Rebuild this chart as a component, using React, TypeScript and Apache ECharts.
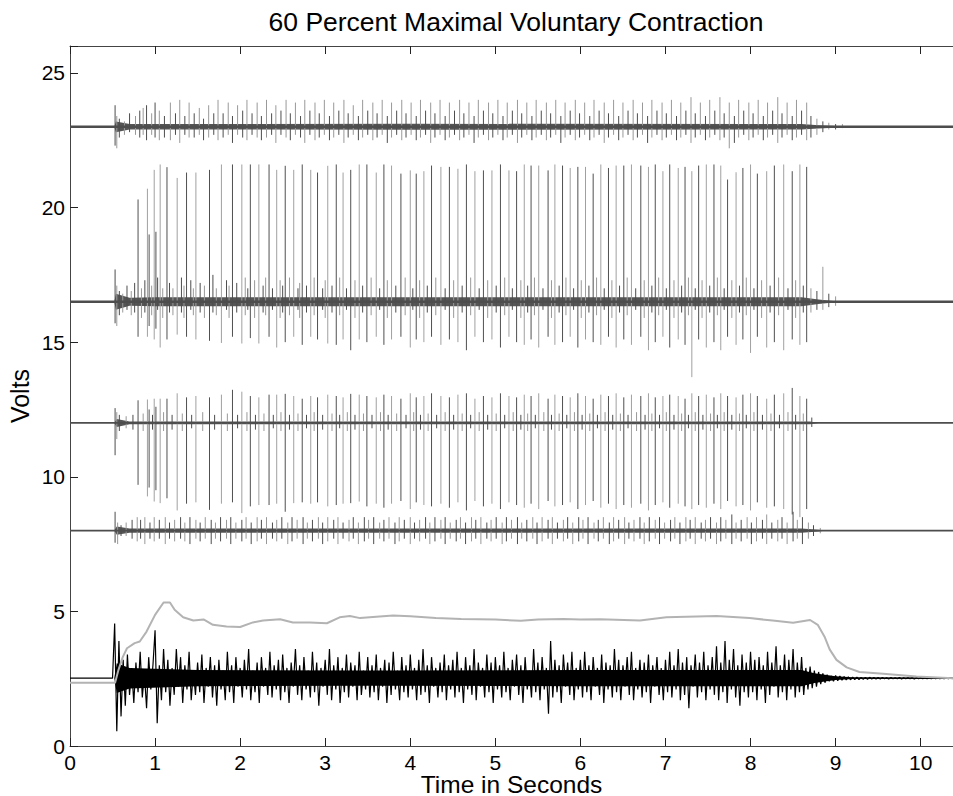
import React, { useEffect, useRef } from "react";
import * as echarts from "echarts";

const TITLE = "60 Percent Maximal Voluntary Contraction";
const X_NAME = "Time in Seconds";
const Y_NAME = "Volts";
const X_MAX = 10.38;
const Y_MAX = 26;

// Channel baselines (V)
const A_BASE = 23;
const B_BASE = 16.5;
const C_BASE = 12;
const D_BASE = 8;

// Large motor-unit spikes seen on channels B and C: [t, bTop, bBottom, cTop, cBottom]
const majorSpikes = [
  [0.80, 20.3, 15.2, 12.84, 9.7], [0.91, 20.7, 15.2, 12.87, 9.27], [0.93, 19.0, 15.6, 12.5, 9.6],
  [0.99, 21.4, 15.1, 12.9, 9.08], [1.01, 19.1, 15.5, 12.6, 9.5], [1.06, 21.6, 14.8, 12.9, 9.02],
  [1.14, 21.5, 15.1, 12.9, 9.2], [1.26, 21.1, 15.28, 13.1, 8.75], [1.37, 21.3, 15.2, 12.95, 9.0],
  [1.48, 21.3, 15.1, 13.0, 9.05], [1.64, 21.4, 15.05, 12.95, 8.77], [1.78, 21.6, 14.97, 13.05, 9.0],
  [1.91, 21.6, 15.2, 13.23, 9.05], [2.02, 21.6, 14.95, 13.16, 8.65], [2.12, 21.6, 15.15, 13.0, 8.9],
  [2.22, 21.6, 14.95, 12.95, 8.95], [2.34, 21.6, 15.2, 13.05, 8.95], [2.43, 21.4, 14.8, 13.05, 9.0],
  [2.53, 21.55, 15.0, 13.08, 8.7], [2.63, 21.4, 15.2, 13.0, 9.02], [2.73, 21.6, 14.9, 12.9, 9.05],
  [2.83, 21.4, 15.2, 13.0, 9.0], [2.91, 21.3, 15.1, 12.95, 9.05], [3.03, 21.55, 14.95, 13.05, 8.9],
  [3.13, 21.6, 14.9, 13.0, 8.95], [3.21, 21.3, 15.1, 12.95, 9.0], [3.30, 21.4, 14.7, 13.08, 9.02],
  [3.40, 21.6, 15.1, 13.05, 9.08], [3.49, 21.6, 15.0, 13.0, 8.9], [3.60, 21.3, 15.2, 12.95, 9.0],
  [3.69, 21.6, 14.9, 13.05, 8.85], [3.78, 21.56, 15.1, 13.0, 9.0], [3.89, 21.26, 15.2, 12.9, 9.1],
  [4.00, 21.38, 14.8, 13.1, 8.8], [4.07, 21.26, 15.1, 12.95, 9.05], [4.16, 21.35, 15.0, 13.0, 8.95],
  [4.25, 21.56, 15.2, 13.1, 8.9], [4.36, 21.51, 14.9, 13.0, 9.0], [4.46, 21.51, 15.1, 12.95, 8.85],
  [4.56, 21.44, 15.0, 13.05, 9.05], [4.66, 21.6, 14.7, 13.1, 8.75], [4.76, 21.35, 15.2, 12.9, 9.1],
  [4.86, 21.38, 15.0, 13.0, 8.9], [4.96, 21.38, 15.1, 12.95, 9.0], [5.06, 21.6, 14.8, 13.1, 8.8],
  [5.16, 21.38, 15.2, 13.0, 9.05], [5.25, 21.35, 15.0, 12.95, 8.95], [5.34, 21.6, 14.9, 13.05, 8.85],
  [5.42, 21.56, 15.1, 13.0, 9.0], [5.51, 21.56, 14.8, 13.1, 8.8], [5.62, 21.38, 15.2, 12.9, 9.1],
  [5.70, 21.6, 14.9, 13.05, 8.9], [5.79, 21.56, 15.0, 13.0, 8.95], [5.88, 21.47, 15.2, 12.95, 9.05],
  [5.97, 21.51, 14.8, 13.1, 8.8], [6.06, 21.51, 15.1, 13.0, 8.95], [6.15, 21.26, 15.0, 12.9, 9.1],
  [6.24, 21.6, 14.9, 13.05, 8.85], [6.33, 21.47, 15.2, 13.0, 9.0], [6.42, 21.56, 14.8, 13.1, 8.8],
  [6.51, 21.56, 15.1, 12.95, 8.95], [6.60, 21.6, 14.9, 13.05, 8.85], [6.71, 21.56, 15.2, 13.0, 9.0],
  [6.80, 21.51, 14.7, 13.1, 8.75], [6.88, 21.6, 15.0, 12.95, 8.95], [6.97, 21.35, 15.2, 13.0, 9.05],
  [7.05, 21.6, 14.8, 13.05, 8.85], [7.15, 21.47, 15.1, 13.0, 9.0], [7.23, 21.51, 14.9, 12.9, 8.9],
  [7.31, 21.35, 13.7, 13.1, 8.8], [7.39, 21.56, 15.1, 13.0, 8.95], [7.48, 21.6, 14.8, 13.05, 8.85],
  [7.57, 21.6, 15.0, 12.95, 9.0], [7.65, 21.56, 14.7, 13.1, 8.8], [7.73, 21.04, 15.2, 13.0, 9.1],
  [7.83, 21.31, 14.9, 12.95, 8.9], [7.91, 21.47, 15.1, 13.05, 8.95], [8.00, 21.6, 14.6, 13.1, 8.75],
  [8.08, 21.26, 15.2, 13.0, 9.05], [8.19, 21.35, 14.8, 12.9, 8.85], [8.28, 21.56, 15.0, 13.05, 8.9],
  [8.39, 21.6, 14.7, 13.1, 8.8], [8.49, 21.35, 15.1, 13.3, 8.6], [8.58, 21.6, 14.9, 13.0, 8.5],
  [8.66, 21.51, 15.0, 12.9, 8.8],
];

// Smaller spikes per channel: [t, up above base, down below base]
const aSpikes = [
  [0.53, .8, .7], [0.55, .4, .8], [0.58, .3, .4], [0.64, .2, .3], [0.70, .5, .2], [0.77, .4, .3],
  [0.82, .6, .4], [0.86, .7, .3], [0.90, .8, .5], [0.96, .5, .3], [1.00, .9, .4], [1.05, .6, .5],
  [1.11, .4, .4], [1.18, .9, .5], [1.24, .5, .3], [1.29, 1.0, .6], [1.35, .4, .3], [1.40, .9, .4],
  [1.46, .5, .4], [1.52, .7, .3], [1.57, .3, .5], [1.63, .8, .4], [1.69, .5, .3], [1.74, 1.0, .5],
  [1.80, .5, .4], [1.86, .9, .3], [1.91, .4, .6], [1.97, .8, .3], [2.03, .6, .4], [2.08, 1.0, .5],
  [2.14, .5, .3], [2.20, .9, .4], [2.25, .4, .5], [2.31, 1.0, .4], [2.37, .5, .3], [2.42, .8, .6],
  [2.48, .6, .3], [2.54, 1.0, .4], [2.59, .5, .5], [2.65, .9, .3], [2.71, .4, .4], [2.76, 1.0, .6],
  [2.82, .6, .3], [2.88, .9, .5], [2.93, .5, .4], [2.99, 1.0, .3], [3.05, .4, .5], [3.10, .9, .4],
  [3.16, .6, .3], [3.22, 1.0, .6], [3.27, .5, .4], [3.33, .8, .3], [3.39, .4, .5], [3.44, 1.0, .4],
  [3.50, .6, .3], [3.56, .9, .5], [3.61, .5, .4], [3.67, 1.0, .3], [3.73, .4, .6], [3.78, .9, .4],
  [3.84, .6, .3], [3.90, 1.0, .5], [3.95, .5, .4], [4.01, .9, .3], [4.07, .4, .5], [4.12, 1.0, .4],
  [4.18, .6, .3], [4.24, .9, .6], [4.29, .5, .4], [4.35, 1.0, .3], [4.41, .4, .5], [4.46, .9, .4],
  [4.52, .6, .3], [4.58, 1.0, .5], [4.63, .5, .4], [4.69, .9, .3], [4.75, .4, .6], [4.80, 1.0, .4],
  [4.86, .6, .3], [4.92, .9, .5], [4.97, .5, .4], [5.03, 1.0, .3], [5.09, .4, .5], [5.14, .9, .4],
  [5.20, .6, .3], [5.26, 1.0, .6], [5.31, .5, .4], [5.37, .9, .3], [5.43, .4, .5], [5.48, 1.0, .4],
  [5.54, .6, .3], [5.60, .9, .5], [5.65, .5, .4], [5.71, 1.0, .3], [5.77, .4, .6], [5.82, .9, .4],
  [5.88, .6, .3], [5.94, 1.0, .5], [5.99, .5, .4], [6.05, .9, .3], [6.11, .4, .5], [6.16, 1.0, .4],
  [6.22, .6, .3], [6.28, .9, .6], [6.33, .5, .4], [6.39, 1.0, .3], [6.45, .4, .5], [6.50, .9, .4],
  [6.56, .6, .3], [6.62, 1.0, .5], [6.67, .5, .4], [6.73, .9, .3], [6.79, .4, .6], [6.84, 1.0, .4],
  [6.90, .6, .3], [6.96, .9, .5], [7.01, .5, .4], [7.07, 1.0, .3], [7.13, .4, .5], [7.18, .9, .4],
  [7.24, .6, .3], [7.30, 1.1, .6], [7.35, .5, .4], [7.41, .9, .3], [7.47, .4, .5], [7.52, 1.0, .4],
  [7.58, .6, .3], [7.64, 1.1, .5], [7.69, .5, .4], [7.75, .9, .8], [7.81, .4, .6], [7.86, 1.0, .4],
  [7.92, .6, .3], [7.98, .9, .5], [8.03, .5, .4], [8.09, 1.0, .3], [8.15, .4, .5], [8.20, .9, .4],
  [8.26, .6, .3], [8.32, 1.1, .6], [8.37, .5, .4], [8.43, .9, .3], [8.49, .4, .5], [8.54, 1.0, .4],
  [8.60, .6, .3], [8.66, .9, .5], [8.71, .4, .4], [8.78, .3, .3], [8.85, .2, .2], [8.92, .15, .1],
  [9.00, .1, .1], [9.08, .1, .05],
];

const bSpikes = [
  [0.53, 1.2, .8], [0.55, .6, .9], [0.58, .4, .5], [0.62, .3, .4], [0.67, .6, .3], [0.72, .4, .5],
  [0.76, .7, .4], [0.84, .5, .6], [0.88, .8, .4], [0.96, .6, .5], [1.03, .9, .3], [1.09, .5, .6],
  [1.17, .7, .4], [1.21, .5, .5], [1.31, .9, .4], [1.34, .6, .6], [1.42, .8, .3], [1.45, .5, .5],
  [1.53, .7, .4], [1.58, .6, .6], [1.68, 1.0, .4], [1.72, .5, .5], [1.84, .8, .3], [1.87, .6, .6],
  [1.96, .7, .4], [2.06, .9, .5], [2.09, .5, .3], [2.17, .8, .6], [2.27, .6, .4], [2.30, .9, .5],
  [2.38, .5, .3], [2.47, .8, .6], [2.50, .6, .4], [2.58, .9, .5], [2.68, .5, .3], [2.70, .7, .6],
  [2.78, .6, .4], [2.87, .9, .5], [2.97, .5, .3], [3.00, .8, .6], [3.08, .6, .4], [3.17, .9, .5],
  [3.25, .5, .3], [3.35, .8, .6], [3.44, .6, .4], [3.54, .9, .5], [3.64, .5, .3], [3.73, .8, .6],
  [3.83, .6, .4], [3.94, .9, .5], [4.03, .5, .3], [4.11, .8, .6], [4.20, .6, .4], [4.30, .9, .5],
  [4.41, .5, .3], [4.51, .8, .6], [4.61, .6, .4], [4.71, .9, .5], [4.81, .5, .3], [4.91, .8, .6],
  [5.01, .6, .4], [5.11, .9, .5], [5.20, .5, .3], [5.30, .8, .6], [5.38, .6, .4], [5.46, .9, .5],
  [5.56, .5, .3], [5.66, .8, .6], [5.75, .6, .4], [5.83, .9, .5], [5.92, .5, .3], [6.01, .8, .6],
  [6.10, .6, .4], [6.19, .9, .5], [6.28, .5, .3], [6.37, .8, .6], [6.46, .6, .4], [6.55, .9, .5],
  [6.65, .5, .3], [6.75, .8, .6], [6.84, .6, .4], [6.92, .9, .5], [7.01, .5, .3], [7.10, .8, .6],
  [7.19, .6, .4], [7.27, .9, .5], [7.35, .5, .3], [7.43, .8, .6], [7.52, .6, .4], [7.61, .9, .5],
  [7.69, .5, .3], [7.78, .8, .6], [7.87, .6, .4], [7.95, .9, .5], [8.04, .5, .3], [8.13, .8, .6],
  [8.23, .6, .4], [8.33, .9, .5], [8.44, .5, .3], [8.53, .8, .6], [8.62, .6, .4], [8.71, .5, .4],
  [8.78, .4, .3], [8.85, 1.3, .3], [8.92, .3, .2], [9.00, .2, .15],
];

const cSpikes = [
  [0.53, .55, 1.2], [0.55, .4, .6], [0.58, .3, .3], [0.66, .25, .2], [0.74, .3, .25], [0.86, .35, .3],
  [0.97, .3, .25], [1.10, .4, .3], [1.20, .3, .25], [1.32, .35, .3], [1.43, .3, .2], [1.56, .4, .3],
  [1.70, .3, .25], [1.85, .35, .3], [1.97, .3, .2], [2.08, .4, .3], [2.18, .3, .25], [2.28, .35, .3],
  [2.39, .3, .2], [2.48, .4, .3], [2.58, .3, .25], [2.68, .35, .3], [2.78, .3, .2], [2.87, .4, .3],
  [2.97, .3, .25], [3.08, .35, .3], [3.17, .3, .2], [3.26, .4, .3], [3.35, .3, .25], [3.45, .35, .3],
  [3.55, .3, .2], [3.65, .4, .3], [3.74, .3, .25], [3.84, .35, .3], [3.95, .3, .2], [4.04, .4, .3],
  [4.12, .3, .25], [4.21, .35, .3], [4.31, .3, .2], [4.41, .4, .3], [4.51, .3, .25], [4.61, .35, .3],
  [4.71, .3, .2], [4.81, .4, .3], [4.91, .3, .25], [5.01, .35, .3], [5.11, .3, .2], [5.21, .4, .3],
  [5.30, .3, .25], [5.38, .35, .3], [5.47, .3, .2], [5.57, .4, .3], [5.66, .3, .25], [5.75, .35, .3],
  [5.84, .3, .2], [5.93, .4, .3], [6.02, .3, .25], [6.11, .35, .3], [6.20, .3, .2], [6.29, .4, .3],
  [6.38, .3, .25], [6.47, .35, .3], [6.56, .3, .2], [6.66, .4, .3], [6.76, .3, .25], [6.84, .35, .3],
  [6.93, .3, .2], [7.01, .4, .3], [7.10, .3, .25], [7.19, .35, .3], [7.27, .3, .2], [7.35, .4, .3],
  [7.44, .3, .25], [7.53, .35, .3], [7.61, .3, .2], [7.69, .4, .3], [7.78, .3, .25], [7.87, .35, .3],
  [7.95, .3, .2], [8.04, .4, .3], [8.14, .3, .25], [8.24, .35, .3], [8.34, .3, .2], [8.44, .4, .3],
  [8.53, .3, .25], [8.62, .35, .3], [8.72, .2, .15],
];

const dSpikes = [
  [0.53, .7, .45], [0.56, .3, .5], [0.60, .2, .2], [0.66, .3, .2], [0.73, .4, .3], [0.79, .5, .4],
  [0.83, .4, .3], [0.88, .5, .5], [0.94, .3, .3], [0.99, .5, .4], [1.05, .4, .3], [1.12, .5, .5],
  [1.17, .3, .3], [1.23, .4, .4], [1.30, .5, .3], [1.35, .3, .4], [1.41, .5, .5], [1.48, .4, .3],
  [1.53, .3, .4], [1.59, .5, .3], [1.66, .4, .5], [1.71, .3, .3], [1.77, .5, .4], [1.84, .4, .3],
  [1.89, .5, .5], [1.95, .3, .3], [2.02, .4, .4], [2.07, .5, .3], [2.13, .3, .5], [2.20, .5, .4],
  [2.25, .4, .3], [2.31, .5, .5], [2.38, .3, .3], [2.43, .4, .4], [2.49, .5, .3], [2.56, .3, .5],
  [2.61, .5, .4], [2.67, .4, .3], [2.74, .5, .5], [2.79, .3, .3], [2.85, .4, .4], [2.92, .5, .3],
  [2.97, .3, .5], [3.03, .5, .4], [3.10, .4, .3], [3.15, .5, .5], [3.21, .3, .3], [3.28, .4, .4],
  [3.33, .5, .3], [3.39, .3, .5], [3.46, .5, .4], [3.51, .4, .3], [3.57, .5, .5], [3.64, .3, .3],
  [3.69, .4, .4], [3.75, .5, .3], [3.82, .3, .5], [3.87, .5, .4], [3.93, .4, .3], [4.00, .5, .5],
  [4.05, .3, .3], [4.11, .4, .4], [4.18, .5, .3], [4.23, .3, .5], [4.29, .5, .4], [4.36, .4, .3],
  [4.41, .5, .5], [4.47, .3, .3], [4.54, .4, .4], [4.59, .5, .3], [4.65, .3, .5], [4.72, .5, .4],
  [4.77, .4, .3], [4.83, .5, .5], [4.90, .3, .3], [4.95, .4, .4], [5.01, .5, .3], [5.08, .3, .5],
  [5.13, .5, .4], [5.19, .4, .3], [5.26, .5, .5], [5.31, .3, .3], [5.37, .4, .4], [5.44, .5, .3],
  [5.49, .3, .5], [5.55, .5, .4], [5.62, .4, .3], [5.67, .5, .5], [5.73, .3, .3], [5.80, .4, .4],
  [5.85, .5, .3], [5.91, .3, .5], [5.98, .5, .4], [6.03, .4, .3], [6.09, .5, .5], [6.16, .3, .3],
  [6.21, .4, .4], [6.27, .5, .3], [6.34, .3, .5], [6.39, .5, .4], [6.45, .4, .3], [6.52, .5, .5],
  [6.57, .3, .3], [6.63, .4, .4], [6.70, .5, .3], [6.75, .3, .5], [6.81, .5, .4], [6.88, .4, .3],
  [6.93, .5, .5], [6.99, .3, .3], [7.06, .4, .4], [7.11, .5, .3], [7.17, .3, .5], [7.24, .5, .4],
  [7.29, .4, .3], [7.35, .5, .5], [7.42, .3, .3], [7.47, .4, .4], [7.53, .5, .3], [7.60, .3, .5],
  [7.65, .5, .4], [7.71, .4, .3], [7.78, .6, .5], [7.83, .3, .3], [7.89, .4, .4], [7.96, .5, .3],
  [8.01, .3, .5], [8.07, .5, .4], [8.14, .4, .3], [8.19, .6, .5], [8.25, .3, .3], [8.32, .4, .4],
  [8.37, .5, .3], [8.43, .3, .5], [8.50, .7, .4], [8.55, .4, .3], [8.61, .5, .5], [8.68, .3, .3],
  [8.74, .2, .2], [8.82, .1, .1],
];

// Half-width of the dense noise core of each channel: [t, halfWidth]
const aCore = [[0.52, 0], [0.54, 0.2], [0.7, 0.1], [1.0, 0.1], [4.0, 0.11], [8.6, 0.1], [8.8, 0.06], [9.1, 0.02], [9.2, 0]];
const bCore = [[0.52, 0], [0.54, 0.3], [0.7, 0.15], [1.0, 0.17], [5.0, 0.17], [8.6, 0.17], [8.8, 0.08], [9.0, 0.02], [9.1, 0]];
const cCore = [[0.52, 0], [0.55, 0.15], [0.7, 0.05], [8.7, 0.05], [8.8, 0]];
const dCore = [[0.52, 0], [0.55, 0.15], [0.7, 0.08], [8.6, 0.08], [8.8, 0.03], [8.9, 0]];
const emgCore = [[0.52, 0], [0.55, 0.55], [0.7, 0.38], [1.5, 0.3], [3.5, 0.28], [6.0, 0.3], [8.6, 0.3], [8.75, 0.18], [9.0, 0.07], [9.2, 0.03], [10.38, 0.02]];

// Surface EMG (black): samples every 0.025 s from 0.5 s
const EMG_START = 0.5;
const EMG_STEP = 0.025;
const EMG_REST = 2.52;
const emgValues = [
  2.52, 4.55, 0.55, 3.9, 1.1, 3.2, 1.5, 3.4, 1.9, 2.9, 1.6, 3.1, 2.0, 3.5, 1.8, 2.7, 1.4, 3.3, 2.1, 3.0,
  4.3, 0.85, 3.0, 1.7, 3.6, 2.0, 3.2, 1.5, 2.9, 1.9, 3.6, 2.2, 3.3, 1.6, 3.0, 2.1, 3.5, 1.7, 2.8, 1.9,
  3.1, 2.0, 3.4, 1.6, 2.9, 2.2, 3.3, 1.8, 3.0, 1.5, 3.2, 2.1, 2.8, 1.7, 3.5, 2.0, 3.0, 1.6, 3.3, 2.2,
  2.9, 1.8, 3.2, 2.1, 3.6, 1.7, 2.8, 2.0, 3.1, 1.6, 3.3, 2.2, 2.9, 1.9, 3.5, 1.8, 3.0, 2.1, 3.2, 1.7,
  3.4, 2.0, 2.9, 1.6, 3.1, 2.2, 3.6, 1.9, 3.0, 1.7, 3.3, 2.1, 2.8, 1.8, 3.5, 2.0, 3.1, 1.5, 2.9, 2.2,
  3.2, 1.9, 3.6, 1.7, 3.0, 2.1, 3.3, 1.6, 2.9, 2.0, 3.4, 1.8, 3.1, 2.2, 3.0, 1.7, 3.5, 1.9, 2.8, 2.1,
  3.3, 1.8, 3.0, 2.0, 3.4, 1.7, 2.9, 2.2, 3.2, 1.6, 3.1, 1.9, 3.5, 2.1, 2.8, 1.7, 3.3, 2.0, 3.0, 1.8,
  3.4, 2.1, 2.9, 1.7, 3.2, 1.9, 3.6, 2.0, 3.0, 1.6, 3.3, 2.2, 2.9, 1.8, 3.1, 2.0, 3.4, 1.7, 3.0, 2.1,
  3.2, 1.8, 3.5, 2.0, 2.9, 1.6, 3.3, 2.1, 3.0, 1.9, 3.6, 1.7, 3.1, 2.2, 2.9, 1.8, 3.4, 2.0, 3.1, 1.6,
  3.3, 2.1, 3.0, 1.8, 3.5, 2.0, 2.9, 1.7, 3.2, 2.2, 3.4, 1.9, 3.0, 1.6, 3.3, 2.1, 2.8, 1.8, 3.6, 2.0,
  3.1, 1.7, 3.3, 2.1, 2.9, 1.2, 3.9, 1.8, 3.2, 2.0, 3.0, 1.6, 3.4, 2.2, 3.1, 1.9, 3.5, 1.7, 2.9, 2.1,
  3.2, 1.8, 3.5, 2.0, 3.0, 1.7, 3.3, 2.2, 2.9, 1.9, 3.4, 1.6, 3.1, 2.1, 3.0, 1.8, 3.6, 2.0, 3.2, 1.7,
  3.0, 2.2, 3.3, 1.9, 3.5, 1.7, 2.9, 2.1, 3.2, 1.8, 3.1, 2.0, 3.4, 1.6, 3.0, 2.2, 3.3, 1.9, 2.9, 1.7,
  3.2, 2.0, 3.5, 1.8, 3.0, 2.1, 3.6, 1.7, 3.1, 1.9, 3.3, 1.4, 3.0, 2.2, 3.4, 1.8, 3.1, 2.0, 3.5, 1.7,
  3.0, 2.1, 3.3, 1.9, 3.7, 1.7, 3.1, 2.0, 3.9, 1.6, 3.2, 2.1, 3.6, 1.8, 3.0, 1.5, 3.4, 2.0, 3.1, 1.8,
  3.5, 2.0, 3.2, 1.7, 3.3, 2.1, 3.0, 1.6, 3.5, 1.9, 3.1, 2.2, 3.7, 1.8, 3.0, 2.0, 3.4, 1.7, 3.2, 2.1,
  3.6, 1.8, 3.1, 2.0, 3.3, 1.9, 2.9, 2.1, 2.95, 2.15, 2.8, 2.2, 2.75, 2.3, 2.7, 2.35, 2.65, 2.4, 2.6, 2.4,
  2.62, 2.42, 2.6, 2.44, 2.58, 2.45, 2.57, 2.46, 2.56, 2.47, 2.56, 2.47, 2.55, 2.48, 2.55, 2.48, 2.55, 2.49, 2.54, 2.49,
  2.54, 2.49, 2.54, 2.50, 2.53, 2.49, 2.54, 2.50, 2.53, 2.50, 2.54, 2.49, 2.53, 2.50, 2.53, 2.50, 2.53, 2.49, 2.53, 2.50,
  2.53, 2.50, 2.53, 2.50, 2.52, 2.50, 2.53, 2.50, 2.52, 2.50, 2.52, 2.50, 2.52, 2.50, 2.52, 2.50,
];

// Force (gray): [t, V]
const forceData = [
  [0, 2.35], [0.53, 2.35], [0.57, 2.83], [0.62, 3.3], [0.67, 3.63], [0.76, 3.82], [0.82, 3.88], [0.90, 4.25],
  [1.0, 4.87], [1.10, 5.33], [1.175, 5.33], [1.23, 5.06], [1.33, 4.78], [1.45, 4.66], [1.57, 4.70], [1.68, 4.50],
  [1.84, 4.44], [2.0, 4.42], [2.15, 4.59], [2.27, 4.66], [2.47, 4.71], [2.62, 4.59], [2.82, 4.59], [3.02, 4.56],
  [3.17, 4.78], [3.29, 4.83], [3.41, 4.75], [3.6, 4.8], [3.8, 4.85], [4.0, 4.82], [4.3, 4.75], [4.6, 4.72],
  [5.0, 4.7], [5.3, 4.65], [5.5, 4.7], [5.8, 4.72], [6.0, 4.7], [6.23, 4.71], [6.70, 4.66], [7.01, 4.78],
  [7.60, 4.83], [7.99, 4.75], [8.26, 4.66], [8.50, 4.58], [8.70, 4.68], [8.79, 4.50], [8.87, 4.06], [8.93, 3.59],
  [9.01, 3.2], [9.13, 2.92], [9.28, 2.75], [9.56, 2.68], [9.95, 2.58], [10.38, 2.52],
];

const FONT = "'Liberation Sans', Arial, Helvetica, sans-serif";

function spikeSeries(rows: number[][], dark: string, light: string, width = 1): any {
  return {
    type: "custom",
    coordinateSystem: "cartesian2d",
    silent: true,
    clip: true,
    data: rows,
    encode: { x: 0, y: [1, 2] },
    renderItem: (params: any, api: any) => {
      const a = api.coord([api.value(0), api.value(1)]);
      const b = api.coord([api.value(0), api.value(2)]);
      return {
        type: "line",
        shape: { x1: a[0], y1: a[1], x2: b[0], y2: b[1] },
        style: { stroke: params.dataIndex % 2 ? light : dark, lineWidth: width },
      };
    },
  };
}

function bandSeries(base: number, core: number[][], color: string): any {
  return {
    type: "custom",
    coordinateSystem: "cartesian2d",
    silent: true,
    clip: true,
    data: [[core[0][0], base]],
    encode: { x: 0, y: 1 },
    renderItem: (_p: any, api: any) => {
      const up = core.map(([t, h]) => api.coord([t, base + h]));
      const dn = core.slice().reverse().map(([t, h]) => api.coord([t, base - h]));
      return { type: "polygon", shape: { points: up.concat(dn) }, style: { fill: color } };
    },
  };
}

function baseLine(base: number, color: string, width: number): any {
  return {
    type: "line",
    data: [[0, base], [X_MAX, base]],
    showSymbol: false,
    silent: true,
    lineStyle: { color, width },
  };
}

const rel = (rows: number[][], base: number) => rows.map(([t, u, d]) => [t, base + u, base - d]);

export default function App() {
  const ref = useRef<HTMLDivElement>(null);
  useEffect(() => {
    if (!ref.current) return;
    const chart = echarts.init(ref.current, null, { renderer: "svg" });
    const emgData: number[][] = [[0, EMG_REST]].concat(
      emgValues.map((v, i) => [EMG_START + i * EMG_STEP, v])
    );
    const axisLine = { lineStyle: { color: "#444", width: 1 } };
    const option: any = {
      animation: false,
      backgroundColor: "#fff",
      title: {
        text: TITLE,
        left: 511,
        top: 3,
        textAlign: "center",
        textStyle: { fontFamily: FONT, fontSize: 26.5, fontWeight: "normal", color: "#000" },
      },
      grid: { left: 70, right: 0, top: 46, bottom: 50, containLabel: false, outerBoundsMode: "none" },
      xAxis: [
        {
          type: "value", min: 0, max: X_MAX, interval: 1, position: "bottom",
          name: X_NAME, nameLocation: "middle", nameGap: 29, nameMoveOverlap: false,
          nameTextStyle: { fontFamily: FONT, fontSize: 24.5, lineHeight: 18, color: "#000" },
          axisLine, splitLine: { show: false },
          axisTick: { inside: true, length: 8, lineStyle: { color: "#222" } },
          axisLabel: {
            fontFamily: FONT, fontSize: 21, lineHeight: 16, color: "#000", margin: 8,
            formatter: (v: number) => (Number.isInteger(v) ? String(v) : ""),
          },
        },
        {
          type: "value", min: 0, max: X_MAX, interval: 1, position: "top",
          axisLine, splitLine: { show: false },
          axisTick: { inside: true, length: 8, lineStyle: { color: "#222" } },
          axisLabel: { show: false },
        },
      ],
      yAxis: {
        type: "value", min: 0, max: Y_MAX, interval: 5,
        name: Y_NAME, nameLocation: "middle", nameGap: 38, nameMoveOverlap: false,
        nameTextStyle: { fontFamily: FONT, fontSize: 25, color: "#000" },
        axisLine, splitLine: { show: false },
        axisTick: { inside: true, length: 8, lineStyle: { color: "#222" } },
        axisLabel: {
          fontFamily: FONT, fontSize: 21, color: "#000", margin: 5,
          formatter: (v: number) => (v % 5 === 0 ? String(v) : ""),
        },
      },
      series: [
        baseLine(A_BASE, "#4d4d4d", 2.5),
        baseLine(B_BASE, "#4d4d4d", 2.5),
        baseLine(C_BASE, "#4d4d4d", 1.6),
        baseLine(D_BASE, "#4d4d4d", 1.6),
        bandSeries(A_BASE, aCore, "#555555"),
        bandSeries(B_BASE, bCore, "#555555"),
        bandSeries(C_BASE, cCore, "#555555"),
        bandSeries(D_BASE, dCore, "#555555"),
        spikeSeries(rel(aSpikes, A_BASE), "#4d4d4d", "#999999"),
        spikeSeries(rel(bSpikes, B_BASE), "#4d4d4d", "#999999"),
        spikeSeries(rel(cSpikes, C_BASE), "#4d4d4d", "#999999"),
        spikeSeries(rel(dSpikes, D_BASE), "#4d4d4d", "#999999"),
        spikeSeries(majorSpikes.map((r) => [r[0], r[1], r[2]]), "#505050", "#a0a0a0"),
        spikeSeries(majorSpikes.map((r) => [r[0], r[3], r[4]]), "#505050", "#a0a0a0"),
        bandSeries(EMG_REST, emgCore, "#000000"),
        {
          type: "line", data: emgData, showSymbol: false, silent: true,
          lineStyle: { color: "#000", width: 1.2 },
        },
        {
          type: "line", data: forceData, showSymbol: false, silent: true,
          lineStyle: { color: "#b3b3b3", width: 2 },
        },
      ],
    };
    chart.setOption(option);
    return () => chart.dispose();
  }, []);
  return (
    <div
      ref={ref}
      style={{ position: "absolute", left: 0, top: 0, width: 953, height: 796, background: "#fff" }}
    />
  );
}
